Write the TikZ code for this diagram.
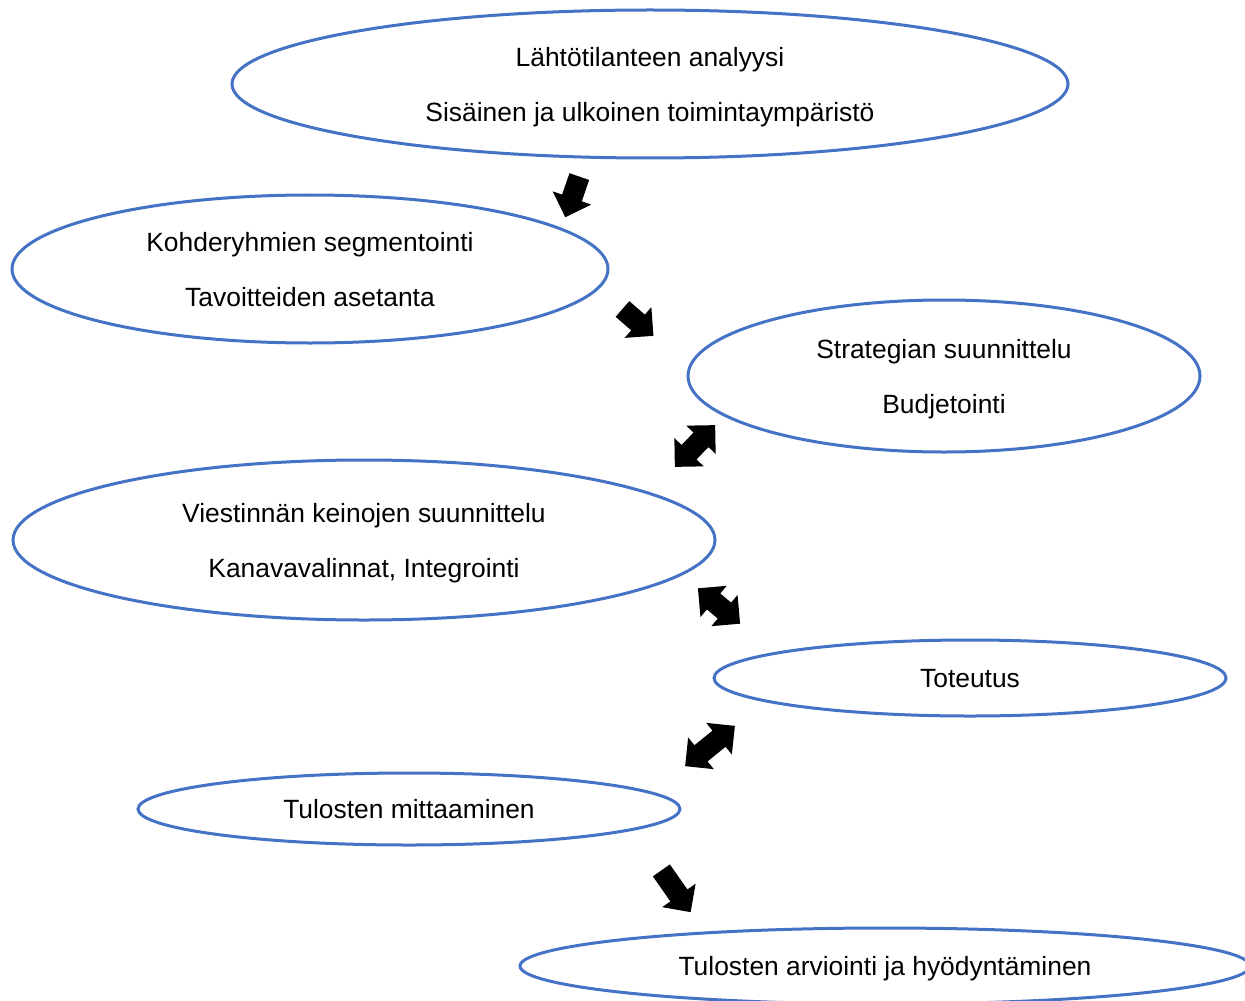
\documentclass[tikz,border=0pt]{standalone}
\usepackage{fontspec}
\setmainfont{Liberation Sans}
\usetikzlibrary{shapes.geometric,shapes.arrows}
\definecolor{officeblue}{RGB}{68,114,196}
\tikzset{
    phase/.style = {
        ellipse,
        draw = officeblue,
        line width = 1.5pt,
        inner sep = 0pt,
        text depth = 0pt,
        align = center,
        font = \fontsize{13.2}{15.8}\selectfont,
        },
    one way/.style = {
        single arrow,
        fill = black,
        inner sep = 5pt,
        single arrow head extend = 5pt,
        },
    two way/.style = {
        double arrow,
        fill = black,
        inner sep = 5pt,
        double arrow head extend = 5pt,
        },
}

\begin{document}
\begin{tikzpicture}[x=0.5pt, y=-0.5pt]
    \useasboundingbox (0,0) rectangle (1245,1000);

    % phases
    \node[phase, minimum width=418pt, minimum height=74pt] (1) at (650,84)
        {Lähtötilanteen analyysi\\[11.7pt]Sisäinen ja ulkoinen toimintaympäristö};
    \node[phase, minimum width=298pt, minimum height=74pt] (2) at (310,269)
        {Kohderyhmien segmentointi\\[11.7pt]Tavoitteiden asetanta};
    \node[phase, minimum width=256pt, minimum height=76pt] (3) at (944,376)
        {Strategian suunnittelu\\[11.7pt]Budjetointi};
    \node[phase, minimum width=351pt, minimum height=80pt] (4) at (364,540)
        {Viestinnän keinojen suunnittelu\\[11.7pt]Kanavavalinnat, Integrointi};
    \node[phase, minimum width=256pt, minimum height=38pt] (5) at (970,678) {Toteutus};
    \node[phase, minimum width=271pt, minimum height=36pt] (6) at (409,809) {Tulosten mittaaminen};
    \node[phase, minimum width=365pt, minimum height=38pt] (7) at (885,966)
        {Tulosten arviointi ja hyödyntäminen};

    % arrows
    \node[one way, minimum height=21.5pt, rotate=-109] (a12) at (574,192) {};
    \node[one way, minimum height=20.5pt, rotate=-41] (a23) at (634,319) {};
    \node[two way, minimum height=29pt, rotate=46] (a34) at (695,446) {};
    \node[two way, minimum height=27.5pt, rotate=-40] (a45) at (719,606) {};
    \node[two way, minimum height=32pt, rotate=39] (a56) at (710,746) {};
    \node[one way, minimum height=25.5pt, rotate=-55] (a67) at (673,887) {};
\end{tikzpicture}
\end{document}
